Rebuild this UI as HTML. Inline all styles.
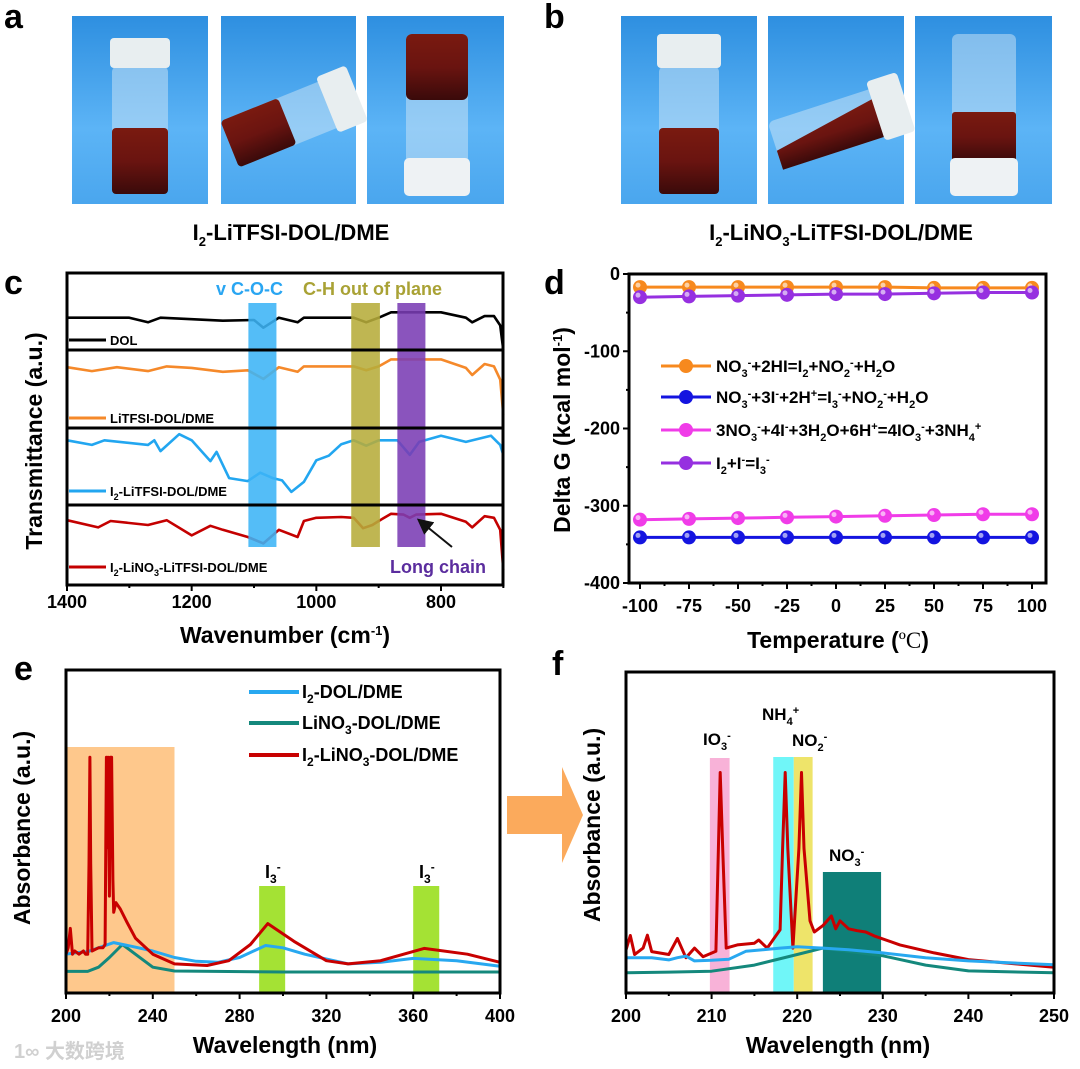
<!DOCTYPE html>
<html><head><meta charset="utf-8"><style>
html,body{margin:0;padding:0;background:#fff}
svg{display:block}
text{font-family:"Liberation Sans","Noto Sans CJK SC",sans-serif;font-weight:bold}
</style></head><body>
<svg id="fig" width="1080" height="1069" viewBox="0 0 1080 1069" xmlns="http://www.w3.org/2000/svg">
<defs>
<linearGradient id="bg" x1="0" y1="0" x2="0" y2="1"><stop offset="0" stop-color="#2e8fe0"/><stop offset="0.6" stop-color="#5cb4f6"/><stop offset="1" stop-color="#4aa6ee"/></linearGradient>
<linearGradient id="liq" x1="0" y1="0" x2="0" y2="1"><stop offset="0" stop-color="#7a1a10"/><stop offset="0.5" stop-color="#6a1410"/><stop offset="1" stop-color="#3a0a0a"/></linearGradient>
<marker id="ah" markerWidth="8" markerHeight="8" refX="6" refY="4" orient="auto"><path d="M0,0 L8,4 L0,8 Z" fill="#111"/></marker>
</defs>

<!-- Panel a -->
<text x="4" y="28" font-size="34">a</text>
<g>
<rect x="72" y="16" width="136" height="188" fill="url(#bg)"/>
<rect x="112" y="66" width="56" height="128" rx="6" fill="#cfe6f5" opacity="0.5"/>
<rect x="112" y="128" width="56" height="66" rx="4" fill="url(#liq)"/>
<rect x="110" y="38" width="60" height="30" rx="4" fill="#e8eef0"/>
</g>
<g>
<rect x="221" y="16" width="135" height="188" fill="url(#bg)"/>
<g transform="rotate(-22 290 120)"><rect x="225" y="95" width="120" height="50" rx="6" fill="#cfe6f5" opacity="0.5"/><rect x="225" y="95" width="62" height="50" rx="4" fill="url(#liq)"/><rect x="330" y="90" width="32" height="60" rx="4" fill="#e8eef0"/></g>
</g>
<g>
<rect x="367" y="16" width="137" height="188" fill="url(#bg)"/>
<rect x="406" y="34" width="62" height="130" rx="6" fill="#cfe6f5" opacity="0.5"/>
<rect x="406" y="34" width="62" height="66" rx="6" fill="url(#liq)"/>
<rect x="404" y="158" width="66" height="38" rx="5" fill="#eef2f4"/>
</g>
<text x="291" y="240" font-size="22" text-anchor="middle">I<tspan dy="6" font-size="13">2</tspan><tspan dy="-6">-LiTFSI-DOL/DME</tspan></text>

<!-- Panel b -->
<text x="544" y="28" font-size="34">b</text>
<g>
<rect x="621" y="16" width="136" height="188" fill="url(#bg)"/>
<rect x="659" y="66" width="60" height="128" rx="6" fill="#cfe6f5" opacity="0.5"/>
<rect x="659" y="128" width="60" height="66" rx="4" fill="url(#liq)"/>
<rect x="657" y="34" width="64" height="34" rx="4" fill="#e8eef0"/>
</g>
<g>
<rect x="768" y="16" width="136" height="188" fill="url(#bg)"/>
<g transform="rotate(-18 840 125)"><rect x="772" y="100" width="120" height="50" rx="6" fill="#cfe6f5" opacity="0.5"/><path d="M772,130 L880,110 L880,150 L772,150 Z" fill="url(#liq)"/><rect x="878" y="92" width="32" height="62" rx="4" fill="#e8eef0"/></g>
</g>
<g>
<rect x="915" y="16" width="137" height="188" fill="url(#bg)"/>
<rect x="952" y="34" width="64" height="130" rx="6" fill="#cfe6f5" opacity="0.5"/>
<rect x="952" y="112" width="64" height="50" rx="3" fill="url(#liq)"/>
<rect x="950" y="158" width="68" height="38" rx="5" fill="#eef2f4"/>
</g>
<text x="841" y="240" font-size="22" text-anchor="middle">I<tspan dy="6" font-size="13">2</tspan><tspan dy="-6">-LiNO</tspan><tspan dy="6" font-size="13">3</tspan><tspan dy="-6">-LiTFSI-DOL/DME</tspan></text>

<!-- Panel c static text -->
<text x="4" y="294" font-size="34">c</text>
<g id="gc"></g>
<text x="216" y="295" font-size="18" fill="#2aa6f2">v C-O-C</text>
<text x="303" y="295" font-size="18" fill="#a9a235">C-H out of plane</text>
<text x="390" y="573" font-size="18" fill="#5b2d9e">Long chain</text>
<line x1="452" y1="547" x2="420" y2="521" stroke="#111" stroke-width="2" marker-end="url(#ah)"/>
<text x="110" y="345" font-size="13">DOL</text>
<text x="110" y="423" font-size="13">LiTFSI-DOL/DME</text>
<text x="110" y="496" font-size="13">I<tspan dy="4" font-size="9">2</tspan><tspan dy="-4">-LiTFSI-DOL/DME</tspan></text>
<text x="110" y="572" font-size="13">I<tspan dy="4" font-size="9">2</tspan><tspan dy="-4">-LiNO</tspan><tspan dy="4" font-size="9">3</tspan><tspan dy="-4">-LiTFSI-DOL/DME</tspan></text>
<text transform="translate(42 441) rotate(-90)" font-size="23" text-anchor="middle">Transmittance (a.u.)</text>
<text x="285" y="643" font-size="23" text-anchor="middle">Wavenumber (cm<tspan dy="-8" font-size="13">-1</tspan><tspan dy="8">)</tspan></text>

<!-- Panel d -->
<text x="544" y="294" font-size="34">d</text>
<g id="gd"></g>
<text transform="translate(570 430) rotate(-90)" font-size="23" text-anchor="middle">Delta G (kcal mol<tspan dy="-8" font-size="13">-1</tspan><tspan dy="8">)</tspan></text>
<text x="838" y="648" font-size="23" text-anchor="middle">Temperature (<tspan font-family="Liberation Serif" font-weight="normal">ºC</tspan>)</text>
<text x="716" y="372" font-size="17">NO<tspan dy="5" font-size="11">3</tspan><tspan dy="-11" font-size="11">-</tspan><tspan dy="6">+2HI=I</tspan><tspan dy="5" font-size="11">2</tspan><tspan dy="-5">+NO</tspan><tspan dy="5" font-size="11">2</tspan><tspan dy="-11" font-size="11">-</tspan><tspan dy="6">+H</tspan><tspan dy="5" font-size="11">2</tspan><tspan dy="-5">O</tspan></text>
<text x="716" y="403" font-size="17">NO<tspan dy="5" font-size="11">3</tspan><tspan dy="-11" font-size="11">-</tspan><tspan dy="6">+3I</tspan><tspan dy="-6" font-size="11">-</tspan><tspan dy="6">+2H</tspan><tspan dy="-6" font-size="11">+</tspan><tspan dy="6">=I</tspan><tspan dy="5" font-size="11">3</tspan><tspan dy="-11" font-size="11">-</tspan><tspan dy="6">+NO</tspan><tspan dy="5" font-size="11">2</tspan><tspan dy="-11" font-size="11">-</tspan><tspan dy="6">+H</tspan><tspan dy="5" font-size="11">2</tspan><tspan dy="-5">O</tspan></text>
<text x="716" y="436" font-size="17">3NO<tspan dy="5" font-size="11">3</tspan><tspan dy="-11" font-size="11">-</tspan><tspan dy="6">+4I</tspan><tspan dy="-6" font-size="11">-</tspan><tspan dy="6">+3H</tspan><tspan dy="5" font-size="11">2</tspan><tspan dy="-5">O+6H</tspan><tspan dy="-6" font-size="11">+</tspan><tspan dy="6">=4IO</tspan><tspan dy="5" font-size="11">3</tspan><tspan dy="-11" font-size="11">-</tspan><tspan dy="6">+3NH</tspan><tspan dy="5" font-size="11">4</tspan><tspan dy="-11" font-size="11">+</tspan></text>
<text x="716" y="469" font-size="17">I<tspan dy="5" font-size="11">2</tspan><tspan dy="-5">+I</tspan><tspan dy="-6" font-size="11">-</tspan><tspan dy="6">=I</tspan><tspan dy="5" font-size="11">3</tspan><tspan dy="-11" font-size="11">-</tspan></text>

<!-- Panel e -->
<text x="14" y="680" font-size="34">e</text>
<g id="ge"></g>
<text transform="translate(30 828) rotate(-90)" font-size="23" text-anchor="middle">Absorbance (a.u.)</text>
<text x="285" y="1053" font-size="23" text-anchor="middle">Wavelength (nm)</text>
<text x="302" y="698" font-size="18">I<tspan dy="5" font-size="12">2</tspan><tspan dy="-5">-DOL/DME</tspan></text>
<text x="302" y="729" font-size="18">LiNO<tspan dy="5" font-size="12">3</tspan><tspan dy="-5">-DOL/DME</tspan></text>
<text x="302" y="761" font-size="18">I<tspan dy="5" font-size="12">2</tspan><tspan dy="-5">-LiNO</tspan><tspan dy="5" font-size="12">3</tspan><tspan dy="-5">-DOL/DME</tspan></text>
<text x="265" y="878" font-size="18">I<tspan dy="5" font-size="12">3</tspan><tspan dy="-12" font-size="12">-</tspan></text>
<text x="419" y="878" font-size="18">I<tspan dy="5" font-size="12">3</tspan><tspan dy="-12" font-size="12">-</tspan></text>
<path d="M507,796 L562,796 L562,767 L583,815 L562,863 L562,834 L507,834 Z" fill="#fbaa5c"/>

<!-- Panel f -->
<text x="552" y="675" font-size="34">f</text>
<g id="gf"></g>
<text transform="translate(600 825) rotate(-90)" font-size="23" text-anchor="middle">Absorbance (a.u.)</text>
<text x="838" y="1053" font-size="23" text-anchor="middle">Wavelength (nm)</text>
<text x="703" y="745" font-size="17">IO<tspan dy="5" font-size="11">3</tspan><tspan dy="-11" font-size="11">-</tspan></text>
<text x="762" y="720" font-size="17">NH<tspan dy="5" font-size="11">4</tspan><tspan dy="-11" font-size="11">+</tspan></text>
<text x="792" y="746" font-size="17">NO<tspan dy="5" font-size="11">2</tspan><tspan dy="-11" font-size="11">-</tspan></text>
<text x="829" y="861" font-size="17">NO<tspan dy="5" font-size="11">3</tspan><tspan dy="-11" font-size="11">-</tspan></text>

<text x="14" y="1058" font-size="20" fill="#d0d0d0">1∞ 大数跨境</text>
</svg>
<script>
// ---------- Panel c data ----------
const cDolWn = [1400,1300,1270,1250,1150,1100,1085,1060,1030,1020,940,920,900,880,800,760,750,730,715,705,700];
const cDolT = [42,42,36,42,38,39,29,42,36,42,42,36,42,49,49,42,36,44,44,32,0];
const cLiWn = [1400,1360,1320,1270,1240,1200,1150,1110,1085,1060,1030,1020,940,920,900,880,800,760,750,730,715,705,700];
const cLiT = [78,73,78,73,79,77,72,74,63,78,72,79,79,74,79,88,88,77,68,82,79,62,17];
const cI2Wn = [1400,1360,1340,1270,1260,1250,1220,1200,1170,1160,1140,1110,1090,1070,1055,1040,1020,1000,980,960,940,920,900,870,850,835,800,760,720,705,700];
const cI2T = [84,78,84,78,84,70,92,84,57,69,35,31,42,35,32,17,30,58,64,79,84,77,84,84,65,82,90,82,90,78,65];
const cNoWn = [1400,1350,1330,1270,1240,1200,1170,1150,1110,1085,1060,1030,1020,1000,960,940,925,910,900,880,860,850,840,800,760,750,730,715,705,700];
const cNoT = [81,72,80,75,81,62,74,69,60,52,69,60,80,84,85,84,71,75,80,89,88,84,88,89,79,72,86,84,69,19];
const cXTicks = [1400,1200,1000,800];
const cBands = [[1109,1064],[944,898],[870,825]];
// ---------- Panel d data ----------
const dTemps = [-100,-75,-50,-25,0,25,50,75,100];
const dOrange = [-17,-17,-17,-17,-17,-17,-18,-18,-18];
const dBlue = [-341,-341,-341,-341,-341,-341,-341,-341,-341];
const dPink = [-318,-317,-316,-315,-314,-313,-312,-311,-311];
const dPurple = [-30,-29,-28,-27,-26,-26,-25,-24,-24];
const dYTicks = [0,-100,-200,-300,-400];
// ---------- Panel e data ----------
const eTealWl = [200,210,215,220,226,232,240,250,300,400];
const eTeal = [6.7,6.7,8,11,15,12,8,6.8,6.5,6.5];
const eBlueWl = [200,205,210,215,222,230,240,250,260,270,280,292,300,310,330,345,360,380,400];
const eBlue = [12,12.5,12.8,14,15.6,14.5,13,11,9.8,9.5,11,14.7,14,12,9,9.5,10.7,10,8.3];
const eRedWl = [200,201,202,203,204,206,208,209,210,210.6,211,211.4,212,215,217,218,218.6,219,219.4,220,220.4,221,221.6,222,223,225,228,232,240,250,265,275,285,293,305,320,330,345,365,385,400];
const eRed = [12,14,20,12,13,12,13,12,12,40,73,40,13,14,14,15,73,45,73,30,73,73,35,25,28,26,22,17,12,9,8.5,10,15,21.5,16,10,9,10,13.8,12,9.5];
const eXTicks = [200,240,280,320,360,400];
const eGreenBands = [[289,301],[360,372]];
// ---------- Panel f data ----------
const fTealWl = [200,205,210,215,220,223,230,235,240,250];
const fTeal = [6.3,6.5,6.8,8.7,12,14,11.6,8.7,6.9,6.3];
const fBlueWl = [200,203,205,206,207,208,210,212,214,216,218,220,223,226,230,235,240,250];
const fBlue = [11,11,10.3,11,11.5,10,10.2,10.5,13,13.5,14,14.4,14,13.5,12.5,11,10,8.8];
const fRedWl = [200,200.5,201,202,202.5,203,205,206,207,208,209,210.5,210.8,211,211.3,211.7,213,215,215.5,216.5,218,218.3,218.6,218.9,219.5,220.2,220.5,220.8,221.5,222,223,224,224.5,225,226,227,228,229,232,236,240,250];
const fRed = [13.4,17.9,12,14,18,12.9,12,17,11,14,11.3,13,45,68.7,45,14,15,15.5,16.5,14,19.7,45,68.7,45,14,45,68.7,45,22.5,19,21,24,20,22.5,20,19.4,19,17.8,15,12.5,10.4,8];
const fXTicks = [200,210,220,230,240,250];
const fBands = [[209.8,212.1],[217.2,219.6],[219.6,221.8],[223,229.8]];

const NS = 'http://www.w3.org/2000/svg';
function mk(tag, attrs, parent){ const e=document.createElementNS(NS,tag); for(const k in attrs) e.setAttribute(k,attrs[k]); parent.appendChild(e); return e; }
function pathD(xs, ys, fx, fy){ return xs.map((v,i)=>(i?'L':'M')+fx(v).toFixed(1)+','+fy(ys[i]).toFixed(1)).join(' '); }

// ===== Panel c =====
(function(){
  const g=document.getElementById('gc');
  const L=67,R=503,T=273,B=585;
  const xC = wn => L + (1400-wn)*(441-67)/600;
  const subs=[[273,350],[350,428],[428,505],[505,585]];
  const yC = (i,t) => subs[i][1] - t/100*(subs[i][1]-subs[i][0]);
  const series=[[cDolWn,cDolT,'#000000','dol'],[cLiWn,cLiT,'#f5892a','litfsi'],[cI2Wn,cI2T,'#22a6f0','i2-litfsi'],[cNoWn,cNoT,'#c40000','i2-lino3']];
  series.forEach((s,i)=>{
    const p=mk('path',{d:pathD(s[0],s[1],xC,v=>yC(i,v)),fill:'none',stroke:s[2],'stroke-width':2.6,'stroke-linejoin':'round'},g);
    
    
    const ly=[340,418,491,567][i];
    const lg=mk('line',{x1:69,x2:106,y1:ly,y2:ly,stroke:s[2],'stroke-width':3},g);
    
    
  });
  const bc=['#3cb4f6','#b6ac3a','#7a3cb4'];
  cBands.forEach((b,i)=>{
    const r=mk('rect',{x:xC(b[0]),y:303,width:xC(b[1])-xC(b[0]),height:244,fill:bc[i],opacity:0.88},g);
    
    
  });
  [350,428,505].forEach(y=>{ const l=mk('line',{x1:L,x2:R,y1:y,y2:y,stroke:'#000','stroke-width':3},g);
    
     });
  const fr=mk('rect',{x:L,y:T,width:R-L,height:B-T,fill:'none',stroke:'#000','stroke-width':3},g);
  
  
  for(let w=1400; w>=700; w-=100){ const major=cXTicks.includes(w);
    const t=mk('line',{x1:xC(w),x2:xC(w),y1:B,y2:B+(major?6:3),stroke:'#000','stroke-width':2},g);
    
     }
  cXTicks.forEach(w=>{ const t=mk('text',{x:xC(w),y:608,'font-size':18,'text-anchor':'middle'},g); t.textContent=w;
    
     });
})();

// ===== Panel d =====
(function(){
  const g=document.getElementById('gd');
  const L=629,R=1046,T=274,B=583;
  const xD = t => 640 + (t+100)*(1032-640)/200;
  const yD = v => T + (-v)*(B-T)/400;
  const fr=mk('rect',{x:L,y:T,width:R-L,height:B-T,fill:'none',stroke:'#000','stroke-width':3},g);
  
  
  const ser=[[dBlue,'#1414e0','blue'],[dPink,'#f03ce8','pink'],[dOrange,'#f7891e','orange'],[dPurple,'#9630e0','purple']];
  ser.forEach(s=>{
    const p=mk('path',{d:pathD(dTemps,s[0],xD,yD),fill:'none',stroke:s[1],'stroke-width':3},g);
    
    
    dTemps.forEach((t,i)=>{ const c=mk('circle',{cx:xD(t),cy:yD(s[0][i]),r:7,fill:s[1]},g);
      
      
      const h=mk('circle',{cx:xD(t)-2,cy:yD(s[0][i])-2,r:2.5,fill:'#fff',opacity:0.6},g);
      
       });
  });
  const legC=[['#f7891e',366],['#1414e0',397],['#f03ce8',430],['#9630e0',463]];
  legC.forEach((l,i)=>{ const ln=mk('line',{x1:661,x2:711,y1:l[1],y2:l[1],stroke:l[0],'stroke-width':3},g);
    
    
    const c=mk('circle',{cx:686,cy:l[1],r:7,fill:l[0]},g);
    
     });
  for(let t=-100;t<=100;t+=12.5){ const major=(t%25===0);
    const k=mk('line',{x1:xD(t),x2:xD(t),y1:B,y2:B+(major?6:3),stroke:'#000','stroke-width':2},g);
    
     }
  dTemps.forEach(t=>{ const tx=mk('text',{x:xD(t),y:612,'font-size':18,'text-anchor':'middle'},g); tx.textContent=t;
    
     });
  for(let v=0;v>=-400;v-=50){ const major=(v%100===0);
    const k=mk('line',{x1:L,x2:L-(major?6:3),y1:yD(v),y2:yD(v),stroke:'#000','stroke-width':2},g);
    
     }
  dYTicks.forEach(v=>{ const tx=mk('text',{x:620,y:yD(v)+6,'font-size':18,'text-anchor':'end'},g); tx.textContent=v;
    
     });
})();

// ===== Panel e =====
(function(){
  const g=document.getElementById('ge');
  const L=66,R=500,T=670,B=993;
  const xE = w => L + (w-200)*(R-L)/200;
  const yE = a => B - a*(B-T)/100;
  const o=mk('rect',{x:xE(200),y:747,width:xE(250)-xE(200),height:B-747,fill:'#fec88c'},g);
  
  
  eGreenBands.forEach(b=>{ const r=mk('rect',{x:xE(b[0]),y:886,width:xE(b[1])-xE(b[0]),height:B-886,fill:'#a4e234'},g);
    
     });
  const ser=[[eTealWl,eTeal,'#14887c','teal'],[eBlueWl,eBlue,'#28a8f0','blue'],[eRedWl,eRed,'#c80000','red']];
  ser.forEach(s=>{ const p=mk('path',{d:pathD(s[0],s[1],xE,yE),fill:'none',stroke:s[2],'stroke-width':3,'stroke-linejoin':'round'},g);
    
     });
  [['#28a8f0',692],['#14887c',723],['#c80000',755]].forEach(l=>{ const ln=mk('line',{x1:249,x2:299,y1:l[1],y2:l[1],stroke:l[0],'stroke-width':4},g);
    
     });
  const fr=mk('rect',{x:L,y:T,width:R-L,height:B-T,fill:'none',stroke:'#000','stroke-width':3},g);
  
  
  for(let w=200;w<=400;w+=20){ const major=(w%40===0);
    const k=mk('line',{x1:xE(w),x2:xE(w),y1:B,y2:B+(major?6:3),stroke:'#000','stroke-width':2},g);
    
     }
  eXTicks.forEach(w=>{ const tx=mk('text',{x:xE(w),y:1022,'font-size':18,'text-anchor':'middle'},g); tx.textContent=w;
    
     });
})();

// ===== Panel f =====
(function(){
  const g=document.getElementById('gf');
  const L=626,R=1054,T=672,B=993;
  const xF = w => L + (w-200)*(R-L)/50;
  const yF = a => B - a*(B-T)/100;
  const bc=[['#f8b2d8',758],['#70f6f8',757],['#eee46a',757],['#0f7f78',872]];
  fBands.forEach((b,i)=>{ const r=mk('rect',{x:xF(b[0]),y:bc[i][1],width:xF(b[1])-xF(b[0]),height:B-bc[i][1],fill:bc[i][0]},g);
    
     });
  const ser=[[fTealWl,fTeal,'#14887c','teal'],[fRedWl,fRed,'#c80000','red'],[fBlueWl,fBlue,'#28a8f0','blue']];
  ser.forEach(s=>{ const p=mk('path',{d:pathD(s[0],s[1],xF,yF),fill:'none',stroke:s[2],'stroke-width':3,'stroke-linejoin':'round'},g);
    
     });
  const fr=mk('rect',{x:L,y:T,width:R-L,height:B-T,fill:'none',stroke:'#000','stroke-width':3},g);
  
  
  for(let w=200;w<=250;w+=5){ const major=(w%10===0);
    const k=mk('line',{x1:xF(w),x2:xF(w),y1:B,y2:B+(major?6:3),stroke:'#000','stroke-width':2},g);
    
     }
  fXTicks.forEach(w=>{ const tx=mk('text',{x:xF(w),y:1022,'font-size':18,'text-anchor':'middle'},g); tx.textContent=w;
    
     });
})();
</script>
</body></html>
